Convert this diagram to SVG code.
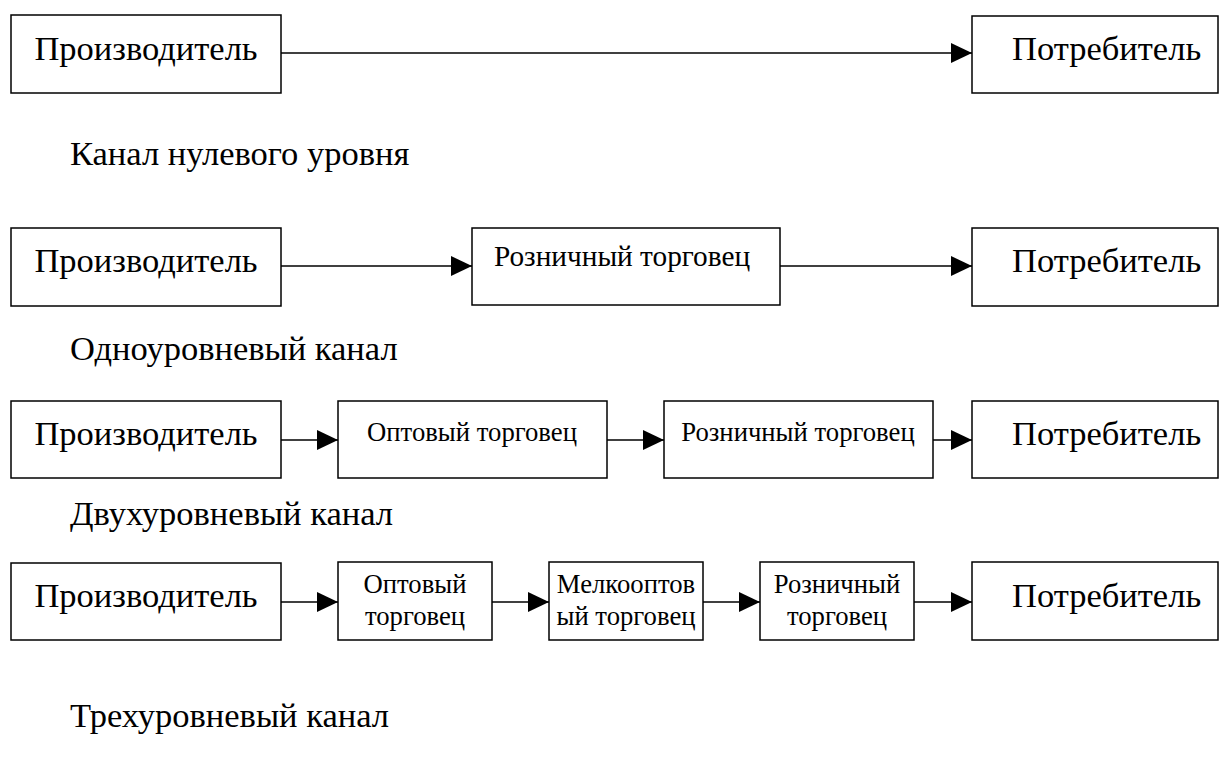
<svg xmlns="http://www.w3.org/2000/svg" width="1231" height="763" viewBox="0 0 1231 763" font-family="'Liberation Serif', 'DejaVu Serif', serif">
  <defs>
    <marker id="arrow" markerUnits="userSpaceOnUse" markerWidth="21" markerHeight="20" refX="21" refY="10" orient="auto">
      <path d="M0,0 L21,10 L0,20 z" fill="#000"/>
    </marker>
  </defs>
  <style>
    rect { fill: #fff; stroke: #000; stroke-width: 1.5; }
    text { font-family: 'Liberation Serif', 'DejaVu Serif', serif; fill: #000; }
    .big { font-size: 34.5px; }
    .mid { font-size: 29.3px; }
    .sm { font-size: 26.7px; }
    .c { text-anchor: middle; }
    .conn line { stroke: #000; stroke-width: 1.5; marker-end: url(#arrow); }
  </style>
  <rect x="0" y="0" width="1231" height="763" style="fill:#fff;stroke:none"/>

  <!-- Zero-level channel -->
  <g id="r1-producer"><rect x="11" y="15" width="270" height="78"/><text class="big c" x="146" y="60">Производитель</text></g>
  <g id="r1-consumer"><rect x="972" y="16" width="246" height="77"/><text class="big" x="1012" y="60">Потребитель</text></g>
  <text id="r1-label" class="big" x="70" y="165">Канал нулевого уровня</text>

  <!-- One-level channel -->
  <g id="r2-producer"><rect x="11" y="228" width="270" height="78"/><text class="big c" x="146" y="272">Производитель</text></g>
  <g id="r2-retail"><rect x="472" y="228" width="308" height="77"/><text class="mid c" x="622" y="266">Розничный торговец</text></g>
  <g id="r2-consumer"><rect x="972" y="228" width="246" height="78"/><text class="big" x="1012" y="272">Потребитель</text></g>
  <text id="r2-label" class="big" x="70" y="360">Одноуровневый канал</text>

  <!-- Two-level channel -->
  <g id="r3-producer"><rect x="11" y="401" width="270" height="77"/><text class="big c" x="146" y="445">Производитель</text></g>
  <g id="r3-wholesale"><rect x="338" y="401" width="269" height="77"/><text class="sm c" x="472" y="441">Оптовый торговец</text></g>
  <g id="r3-retail"><rect x="664" y="401" width="269" height="77"/><text class="sm c" x="798" y="441">Розничный торговец</text></g>
  <g id="r3-consumer"><rect x="972" y="401" width="246" height="77"/><text class="big" x="1012" y="445">Потребитель</text></g>
  <text id="r3-label" class="big" x="70" y="525">Двухуровневый канал</text>

  <!-- Three-level channel -->
  <g id="r4-producer"><rect x="11" y="563" width="270" height="77"/><text class="big c" x="146" y="607">Производитель</text></g>
  <g id="r4-wholesale"><rect x="338" y="562" width="154" height="78"/><text class="sm c" x="415" y="593">Оптовый</text><text class="sm c" x="415" y="625">торговец</text></g>
  <g id="r4-smallwholesale"><rect x="549" y="562" width="154" height="78"/><text class="sm c" x="626" y="593">Мелкооптов</text><text class="sm c" x="626" y="625">ый торговец</text></g>
  <g id="r4-retail"><rect x="760" y="562" width="154" height="78"/><text class="sm c" x="837" y="593">Розничный</text><text class="sm c" x="837" y="625">торговец</text></g>
  <g id="r4-consumer"><rect x="972" y="562" width="246" height="78"/><text class="big" x="1012" y="607">Потребитель</text></g>
  <text id="r4-label" class="big" x="70" y="727">Трехуровневый канал</text>

  <g id="connectors" class="conn">
    <line x1="281" y1="53" x2="972" y2="53"/>
    <line x1="281" y1="266" x2="472" y2="266"/>
    <line x1="780" y1="266" x2="972" y2="266"/>
    <line x1="281" y1="440" x2="338" y2="440"/>
    <line x1="607" y1="440" x2="664" y2="440"/>
    <line x1="933" y1="440" x2="972" y2="440"/>
    <line x1="281" y1="602" x2="338" y2="602"/>
    <line x1="492" y1="602" x2="549" y2="602"/>
    <line x1="703" y1="602" x2="760" y2="602"/>
    <line x1="914" y1="602" x2="972" y2="602"/>
  </g>
</svg>
